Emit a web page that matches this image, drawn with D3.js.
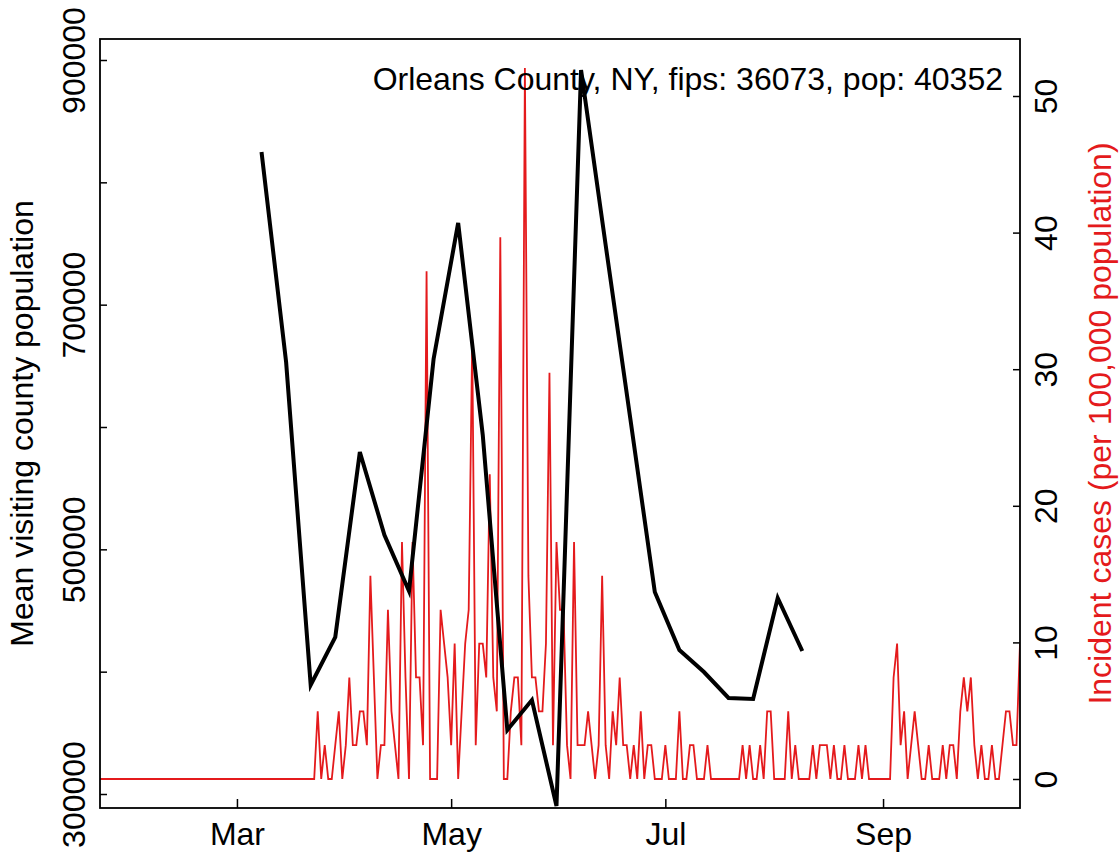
<!DOCTYPE html>
<html><head><meta charset="utf-8">
<script src="https://cdn.jsdelivr.net/npm/d3@7"></script>
<style>body{margin:0;background:#fff}text{font-family:"Liberation Sans",Arial,Helvetica,sans-serif}</style>
</head><body><svg id="chart" width="1119" height="856"></svg>
<script>
const countyTitle = "Orleans County, NY, fips: 36073, pop: 40352";
const population = 40352;
const caseStartDate = "2020-01-22";
const caseEndDate = "2020-10-10";
// daily incident case counts (converted to per 100,000 population)
const dailyCases = [
 0,0,0,0,0,0,0,0,0,0, 0,0,0,0,0,0,0,0,0,0, 0,0,0,0,0,0,0,0,0,0,
 0,0,0,0,0,0,0,0,0,0, 0,0,0,0,0,0,0,0,0,0, 0,0,0,0,0,0,0,0,0,0, 0,0,
 2,0,1,0,0,1,2,0,1,3,
 1,1,2,2,1,6,3,0,1,1,
 5,2,1,0,7,3,0,7,3,3,
 1,15,0,0,0,5,4,3,1,4,
 0,2,4,5,13,1,4,4,3,9,
 3,2,16,0,0,2,3,3,1,21,
 6,3,3,2,2,4,12,1,7,5,
 5,1,0,7,1,1,1,2,1,0,
 1,6,1,0,2,1,3,1,1,0,
 1,0,2,0,1,1,0,0,0,1,
 0,0,0,2,0,0,1,1,0,0,
 0,1,0,0,0,0,0,0,0,0,
 0,1,0,1,0,0,1,0,2,2,
 0,0,0,0,2,0,1,0,0,0,
 0,1,0,1,1,1,0,1,0,0,
 1,0,0,0,1,0,1,0,0,0,
 0,0,0,0,3,4,1,2,0,1,
 2,1,0,0,1,0,0,0,1,0,
 1,1,0,2,3,2,3,1,0,1,
 0,0,1,0,0,1,2,2,1,1,
 4
];
const visitDates = ["2020-03-08","2020-03-15","2020-03-22","2020-03-29","2020-04-05","2020-04-12",
 "2020-04-19","2020-04-26","2020-05-03","2020-05-10","2020-05-17","2020-05-24","2020-05-31",
 "2020-06-07","2020-06-14","2020-06-21","2020-06-28","2020-07-05","2020-07-12","2020-07-19",
 "2020-07-26","2020-08-02","2020-08-09"];
const visitingPop = [824800,653100,389100,428300,579600,511700,465900,655600,766800,593500,
 352300,376800,290200,891800,748800,607400,465100,417700,399700,378500,377700,460200,416900];
const leftTickValues = [300000,400000,500000,600000,700000,800000,900000];
const leftTickLabels = ["300000","","500000","","700000","","900000"];
const rightTickValues = [0,10,20,30,40,50];
const monthTickDates = ["2020-03-01","2020-05-01","2020-07-01","2020-09-01"];
const monthTickLabels = ["Mar","May","Jul","Sep"];
const leftTitle = "Mean visiting county population";
const rightTitle = "Incident cases (per 100,000 population)";

const RED = "#e41a1c";
const FS = 32;
const L = 100, R = 1020, T = 39, B = 808;
const parse = d3.utcParse("%Y-%m-%d");
const svg = d3.select("#chart");

const x = d3.scaleUtc().domain([parse(caseStartDate), parse(caseEndDate)]).range([L, R]);
const yLeft = d3.scaleLinear().domain([300000, 900000]).range([794, 60]);
const yRight = d3.scaleLinear().domain([0, 50]).range([779, 96]);

const start = parse(caseStartDate);
const incidence = dailyCases.map((c, i) => ({date: d3.utcDay.offset(start, i), v: c * 100000 / population}));
const visits = visitDates.map((d, i) => ({date: parse(d), v: visitingPop[i]}));

svg.append("defs").append("clipPath").attr("id", "clip")
  .append("rect").attr("x", L).attr("y", T).attr("width", R - L).attr("height", B - T);

const g = svg.append("g").attr("clip-path", "url(#clip)");
g.append("path").datum(incidence)
  .attr("fill", "none").attr("stroke", RED).attr("stroke-width", 1.8).attr("stroke-linejoin", "miter")
  .attr("d", d3.line().x(d => x(d.date)).y(d => yRight(d.v)));
g.append("path").datum(visits)
  .attr("fill", "none").attr("stroke", "#000").attr("stroke-width", 4).attr("stroke-linejoin", "miter")
  .attr("d", d3.line().x(d => x(d.date)).y(d => yLeft(d.v)));

// axes
const axL = d3.axisLeft(yLeft).tickValues(leftTickValues)
  .tickFormat((d, i) => leftTickLabels[i]).tickSize(-7).tickSizeOuter(0);
const gl = svg.append("g").attr("transform", `translate(${L},0)`).call(axL);
const axR = d3.axisRight(yRight).tickValues(rightTickValues).tickSize(-7).tickSizeOuter(0);
const gr = svg.append("g").attr("transform", `translate(${R},0)`).call(axR);
const axB = d3.axisBottom(x).tickValues(monthTickDates.map(parse))
  .tickFormat((d, i) => monthTickLabels[i]).tickSize(-9).tickSizeOuter(0);
const gb = svg.append("g").attr("transform", `translate(0,${B})`).call(axB);

[gl, gr, gb].forEach(a => {
  a.select(".domain").remove();
  a.selectAll(".tick line").attr("stroke", "#000").attr("stroke-width", 1.5);
  a.selectAll(".tick text").attr("fill", "#000").style("font-size", FS + "px")
    .attr("font-family", null);
});
gl.selectAll(".tick text").attr("transform", "rotate(-90)")
  .attr("x", 0).attr("y", -15).attr("dy", 0).attr("text-anchor", "middle");
gr.selectAll(".tick text").attr("transform", "rotate(-90)")
  .attr("x", 0).attr("y", 37).attr("dy", 0).attr("text-anchor", "middle");
gb.selectAll(".tick text").attr("y", 37).attr("dy", 0).attr("text-anchor", "middle");

svg.append("rect").attr("x", L).attr("y", T).attr("width", R - L).attr("height", B - T)
  .attr("fill", "none").attr("stroke", "#000").attr("stroke-width", 1.8);

svg.append("text").attr("x", 1003).attr("y", 90).attr("text-anchor", "end")
  .style("font-size", FS + "px").attr("fill", "#000").text(countyTitle);
svg.append("text").attr("transform", `translate(33,${(T + B) / 2}) rotate(-90)`)
  .attr("text-anchor", "middle").style("font-size", FS + "px").attr("fill", "#000").text(leftTitle);
svg.append("text").attr("transform", `translate(1111,${(T + B) / 2}) rotate(-90)`)
  .attr("text-anchor", "middle").style("font-size", FS + "px").attr("fill", RED).text(rightTitle);
</script></body></html>
